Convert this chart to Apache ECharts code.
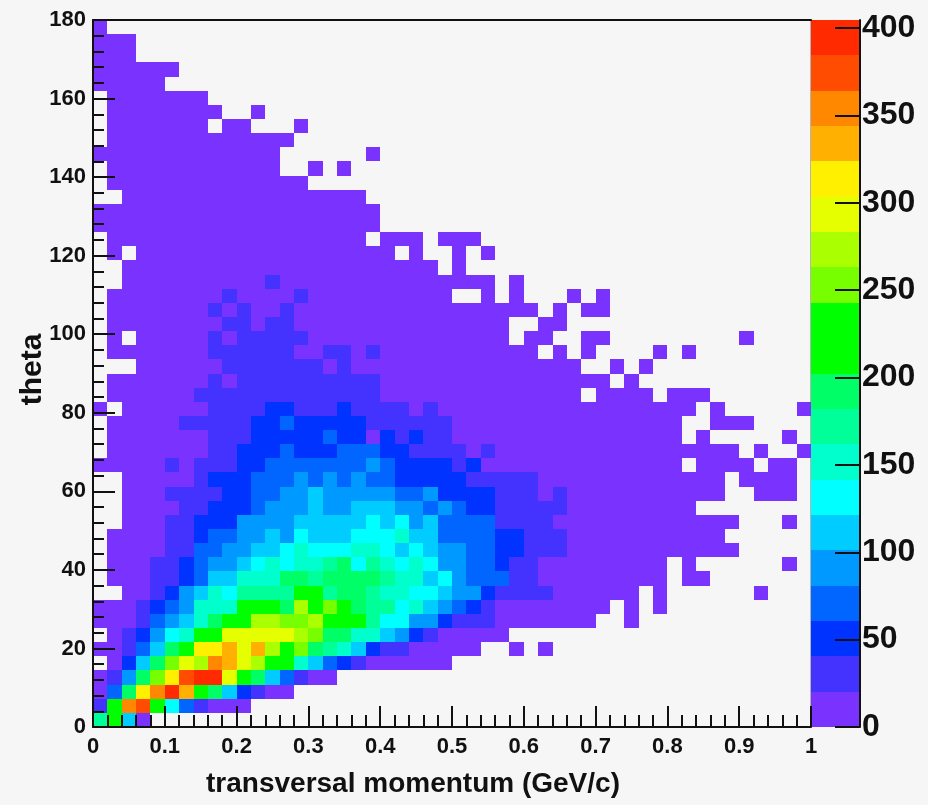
<!DOCTYPE html>
<html><head><meta charset="utf-8">
<style>html,body{margin:0;padding:0;background:#f6f6f6}#c{width:928px;height:805px;filter:blur(0.6px)}</style>
<script src="https://cdn.jsdelivr.net/npm/echarts@6/dist/echarts.min.js"></script>
</head><body><div id="c"></div>
<script>
// Each string is one row of 2D-histogram bins, top row (theta 176.4-180) first; each character is the
// colour band: '.' = empty bin, 0-9 and a-j = bands 0..19.
const binBands = [
"0",
"000",
"000",
"000000",
"00000",
".0000000",
".00000000..0",
".0000000.00...0",
".0000000000000",
"0000000000000......0",
".000000000000..0.0",
".00000000000000",
"..00000000000000000",
"00000000000000000000",
"00000000000000000000",
".000000000000000000.000.000",
".0.000000000000000000.0..0.0",
"..0000000000000000000000.0",
"..00000000001000000000000000.0",
".000000001000010000000000..0.0...0.0",
".000000010100100000000000000000.0.00",
".0000000011011000000000000000..00",
".0.00000101111100000000000000.00..00.........0",
".000000011111100110100000000000.0.0....0.0",
"...0000001111111010000000000000000..0.0",
".00000001011111111110000000000000000.0",
".000000111111111111100000000000000.0000.000",
"0.0000001111221112111101000000000000000000.0.....0",
".0000011111223222221111110000000000000000..000",
".0000000111222223220212110000000000000000.0.....0",
".00000001122232223332211110100000000000000000.0..0",
"00000101112233333334322221200000000000000.0000.00",
"..000001222333434343322222111110000000000000.0000",
"..000111122334454444433422221110100000000000..000",
"..0000112223444544555443432211111000000000",
"..0001122244445555565645333311110000000000000...0",
".0000112334454655566675533332211100000000000",
".00001133445567666776565443322111000000000000",
".000112344567677896876764433211000000000.0......0",
".000112355777998999987756433311000000000.00",
"..001245768888bb8998776654421111000000.0......0",
"0001234777bbb9dbcb988675432100000000.0.0",
"000134579bbddccdbbb8664421110000000..0",
".012467bbeeeeedc9977542100000",
"001359bffgegdbc987521100000..0.0",
".0259cedhgedbb75321000000",
"0149cfijjeb953100",
"039fhjgb952100",
"1bhib631000",
"8b50"
];
const bandColors = ["#7a33ff","#4433ff","#0033ff","#0066ff","#0099ff","#00ccff","#00ffff","#00ffcc","#00ff99","#00ff66",
"#00ff00","#00ff00","#77ff00","#aaff00","#e6ff00","#fff000","#ffb000","#ff8800","#ff4c00","#ff2a00"];
const xTicks = [0,0.1,0.2,0.3,0.4,0.5,0.6,0.7,0.8,0.9,1];
const thetaTicks = [0,20,40,60,80,100,120,140,160,180];
const countTicks = [0,50,100,150,200,250,300,350,400];
const xBinWidth = 0.02, thetaBinWidth = 3.6, countPerBand = 20.23;

const bins = [];
binBands.forEach((row, r) => {
  [...row].forEach((ch, c) => {
    if (ch === '.') return;
    const band = parseInt(ch, 20);
    bins.push([c * xBinWidth, 180 - (r + 1) * thetaBinWidth, (band + 0.5) * countPerBand]);
  });
});
const bandData = bandColors.map((_, i) => [i * countPerBand, (i + 1) * countPerBand]);

function cellRect(p0, p1, fill) {
  const x0 = Math.round(p0[0]), x1 = Math.round(p1[0]), y0 = Math.round(p0[1]), y1 = Math.round(p1[1]);
  return {type: 'rect', shape: {x: x0, y: y1, width: x1 - x0, height: y0 - y1}, style: {fill}};
}

const FONT = '"Liberation Sans", Arial, sans-serif', INK = '#111111';
const chart = echarts.init(document.getElementById('c'), null, {renderer: 'canvas'});
chart.setOption({
  animation: false,
  backgroundColor: '#f6f6f6',
  grid: [
    {left: 93, top: 20, width: 718, height: 707},
    {left: 811, top: 20, width: 49, height: 707}
  ],
  xAxis: [
    {gridIndex: 0, type: 'value', min: 0, max: 1, interval: 0.1, z: 5,
     axisLine: {onZero: false, lineStyle: {color: INK, width: 2}},
     axisTick: {inside: true, length: 21, lineStyle: {color: INK, width: 2}},
     minorTick: {show: true, splitNumber: 5, length: 12, lineStyle: {color: INK, width: 2}},
     splitLine: {show: false},
     axisLabel: {color: INK, fontFamily: FONT, fontWeight: 'bold', fontSize: 22, margin: 9,
       customValues: xTicks, formatter: v => String(v)},
     name: 'transversal momentum (GeV/c)', nameLocation: 'middle', nameGap: 43,
     nameTextStyle: {color: INK, fontFamily: FONT, fontWeight: 'bold', fontSize: 28, padding: [0, 78, 0, 0]}},
    {gridIndex: 0, type: 'value', min: 0, max: 1, position: 'top', z: 5,
     axisLine: {onZero: false, lineStyle: {color: INK, width: 2}},
     axisTick: {show: false}, axisLabel: {show: false}, splitLine: {show: false}},
    {gridIndex: 1, type: 'value', min: 0, max: 1, show: false}
  ],
  yAxis: [
    {gridIndex: 0, type: 'value', min: 0, max: 180, interval: 20, z: 5,
     axisLine: {onZero: false, lineStyle: {color: INK, width: 2}},
     axisTick: {inside: true, length: 22, lineStyle: {color: INK, width: 2}},
     minorTick: {show: true, splitNumber: 5, length: 11, lineStyle: {color: INK, width: 2}},
     splitLine: {show: false},
     axisLabel: {color: INK, fontFamily: FONT, fontWeight: 'bold', fontSize: 22, margin: 7,
       padding: [3, 0, 0, 0], customValues: thetaTicks},
     name: 'theta', nameLocation: 'middle', nameGap: 45, nameMoveOverlap: false,
     nameTextStyle: {color: INK, fontFamily: FONT, fontWeight: 'bold', fontSize: 30, padding: [0, 0, 0, 8]}},
    {gridIndex: 1, type: 'value', min: 0, max: countPerBand * 20, position: 'right', z: 5,
     axisLine: {onZero: false, show: true, lineStyle: {color: INK, width: 2}},
     axisTick: {show: true, inside: true, length: 25, customValues: countTicks, lineStyle: {color: INK, width: 2}},
     splitLine: {show: false},
     axisLabel: {show: true, color: INK, fontFamily: FONT, fontWeight: 'bold', fontSize: 32, margin: 2,
       padding: [5, 0, 0, 0], customValues: countTicks}},
    {gridIndex: 0, type: 'value', min: 0, max: 180, position: 'right', z: 1,
     axisLine: {onZero: false, show: true, lineStyle: {color: '#b4b4b4', width: 2}},
     axisTick: {show: false}, axisLabel: {show: false}, splitLine: {show: false}}
  ],
  series: [
    {type: 'custom', xAxisIndex: 0, yAxisIndex: 0, clip: true, data: bins, z: 2,
     encode: {x: 0, y: 1},
     renderItem: (params, api) => {
       const p0 = api.coord([api.value(0), api.value(1)]);
       const p1 = api.coord([api.value(0) + xBinWidth, api.value(1) + thetaBinWidth]);
       return cellRect(p0, p1, bandColors[Math.floor(api.value(2) / countPerBand)]);
     }},
    {type: 'custom', xAxisIndex: 2, yAxisIndex: 1, clip: true, data: bandData, z: 2,
     encode: {y: [0, 1]},
     renderItem: (params, api) => {
       return cellRect(api.coord([0, api.value(0)]), api.coord([1, api.value(1)]), bandColors[params.dataIndex]);
     }}
  ]
});
</script></body></html>
